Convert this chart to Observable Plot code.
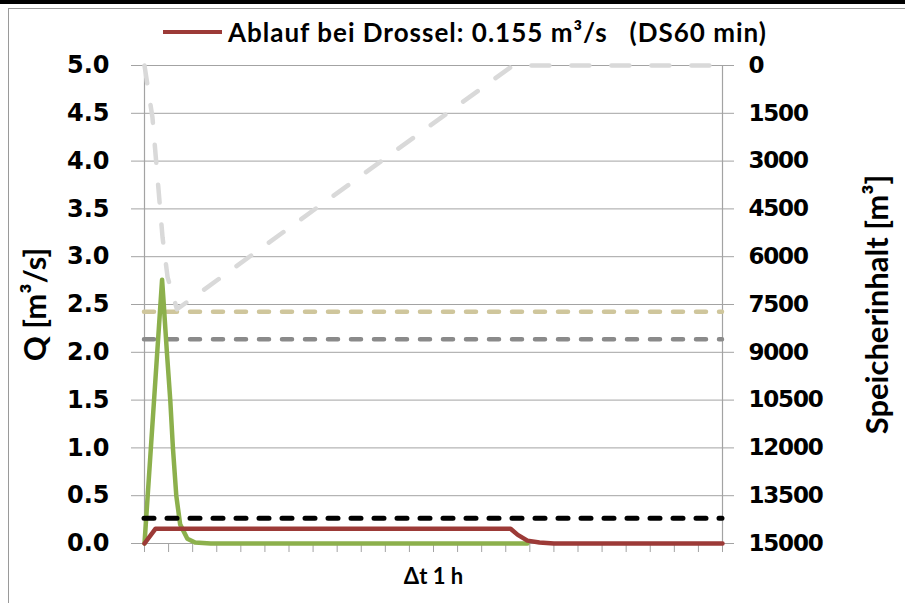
<!DOCTYPE html>
<html>
<head>
<meta charset="utf-8">
<script src="https://cdn.jsdelivr.net/npm/d3@7"></script>
<script src="https://cdn.jsdelivr.net/npm/@observablehq/plot@0.6"></script>
<style>
  html, body { margin: 0; padding: 0; background: #fff; }
  #wrap { position: relative; width: 905px; height: 603px; overflow: hidden; background: #fff; }
  #wrap svg.plot { position: absolute; left: 0; top: 0; }
  #topbar { position: absolute; left: 0; top: 0; width: 905px; height: 4px; background: #000; }
  #frame { position: absolute; left: 8px; top: 8px; width: 905px; height: 603px; border-left: 1.5px solid #9a9a9a; border-top: 1.5px solid #9a9a9a; }
  #legend { position: absolute; left: 163px; top: 13px; height: 38px; display: flex; align-items: center;
            font-family: Lato, "Open Sans", sans-serif; font-weight: 700; font-size: 26px; letter-spacing: 1px; color: #000; white-space: pre; }
  #legend .sw { display: inline-block; width: 59px; height: 4px; background: #9c3a37; margin-right: 6px; }
</style>
</head>
<body>
<div id="wrap">
  <div id="topbar"></div>
  <div id="frame"></div>
  <div id="legend"><span class="sw"></span><span>Ablauf bei Drossel: 0.155 m³/s   (DS60 min)</span></div>
</div>
<script>
// ---- data ----
const hours = d3.range(0, 25);                       // x tick positions, Δt 1 h
const leftTicks = [0, 0.5, 1, 1.5, 2, 2.5, 3, 3.5, 4, 4.5, 5];
const storageTicks = [0, 1500, 3000, 4500, 6000, 7500, 9000, 10500, 12000, 13500, 15000];

// Zufluss (green)
const inflowT = [0, 0.73, 0.8, 0.93, 1.07, 1.18, 1.32, 1.48, 1.78, 2.1, 2.75, 15.9];
const inflowQ = [0, 2.76, 2.5, 2.0, 1.5, 1.0, 0.5, 0.2, 0.05, 0.01, 0, 0];

// Ablauf bei Drossel (red)
const outflowT = [0, 0.46, 15.2, 15.5, 15.9, 16.4, 17, 24];
const outflowQ = [0, 0.155, 0.155, 0.09, 0.03, 0.01, 0, 0];

// Speicherinhalt (light grey dashed, right axis, reversed)
const storageT = [0, 0.33, 0.54, 0.75, 0.96, 1.35, 15.3, 24];
const storageV = [0, 1630, 3515, 5400, 6650, 7650, 0, 0];

// horizontal reference levels
const tanLevelStorage = 7730;   // m³
const grayLevelStorage = 8590;  // m³
const blackLevelQ = 0.265;      // m³/s

// ---- helpers ----
const sMax = 15000, qMax = 5;
const s2q = s => qMax * (1 - s / sMax);
const toRows = (ts, vs, f = v => v) => ts.map((t, i) => ({t, v: f(vs[i])}));

const inflow = toRows(inflowT, inflowQ);
const outflow = toRows(outflowT, outflowQ);
const storage = toRows(storageT, storageV, s2q);
const levels = [
  {name: "tan", q: s2q(tanLevelStorage), color: "#cfc69c"},
  {name: "gray", q: s2q(grayLevelStorage), color: "#8a8a8a"},
  {name: "black", q: blackLevelQ, color: "#000000"}
];

const gridColor = "#a3a3a3";
const tickFont = "DejaVu Sans, Verdana, sans-serif";
const labelFont = "Lato, 'Open Sans', sans-serif";

const chart = Plot.plot({
  width: 905,
  height: 603,
  marginLeft: 144,
  marginRight: 183,
  marginTop: 65,
  marginBottom: 60,
  x: {domain: [0, 24]},
  y: {domain: [0, 5]},
  style: {background: "transparent", overflow: "visible"},
  marks: [
    Plot.gridY(leftTicks, {stroke: gridColor, strokeOpacity: 1, strokeWidth: 1}),
    Plot.axisY(leftTicks, {anchor: "left", tickSize: 13, tickPadding: 22, stroke: gridColor, fill: "#000",
      tickFormat: d => d.toFixed(1), fontSize: 24, fontWeight: 700, fontFamily: tickFont, label: null}),
    Plot.axisY(storageTicks.map(s2q), {anchor: "right", tickSize: 11, tickPadding: 15, stroke: gridColor, fill: "#000",
      tickFormat: d => String(Math.round((1 - d / qMax) * sMax)), fontSize: 23, fontWeight: 700, fontFamily: tickFont,
      label: null, className: "raxis"}),
    Plot.axisX(hours, {anchor: "bottom", tickSize: 9, stroke: gridColor, tickFormat: () => "", label: null}),
    Plot.ruleX([0, 24], {stroke: gridColor, strokeWidth: 1.2}),
    // reference levels
    Plot.ruleY(levels.filter(d => d.name !== "black"), {y: "q", x1: 0, x2: 24, stroke: "color", strokeWidth: 4.5,
      strokeDasharray: "10,13", strokeLinecap: "round"}),
    // storage
    Plot.line(storage, {x: "t", y: "v", stroke: "#d9d9d9", strokeWidth: 4.5, strokeDasharray: "18,22", strokeLinecap: "round"}),
    // inflow
    Plot.line(inflow, {x: "t", y: "v", stroke: "#8cb04c", strokeWidth: 4.5}),
    // outflow
    Plot.line(outflow, {x: "t", y: "v", stroke: "#9c3a37", strokeWidth: 4.5}),
    Plot.ruleY(levels.filter(d => d.name === "black"), {y: "q", x1: 0, x2: 24, stroke: "color", strokeWidth: 5,
      strokeDasharray: "10,13", strokeLinecap: "round"}),
    // axis titles
    Plot.text(["Q [m³/s]"], {text: d => d, frameAnchor: "left", dx: -108, rotate: -90, textAnchor: "middle",
      fontSize: 31, fontWeight: 700, fontFamily: labelFont, fill: "#000"}),
    Plot.text(["Speicherinhalt [m³]"], {text: d => d, frameAnchor: "right", dx: 156, rotate: -90, textAnchor: "middle",
      fontSize: 31, fontWeight: 700, fontFamily: labelFont, fill: "#000"}),
    Plot.text(["Δt 1 h"], {text: d => d, frameAnchor: "bottom", dy: 40, textAnchor: "middle",
      fontSize: 22, fontWeight: 700, fontFamily: labelFont, fill: "#000"})
  ]
});
chart.classList.add("plot");
chart.querySelectorAll(".raxis text").forEach(t => t.setAttribute("letter-spacing", "-1.2"));
document.getElementById("wrap").insertBefore(chart, document.getElementById("topbar"));
</script>
</body>
</html>
